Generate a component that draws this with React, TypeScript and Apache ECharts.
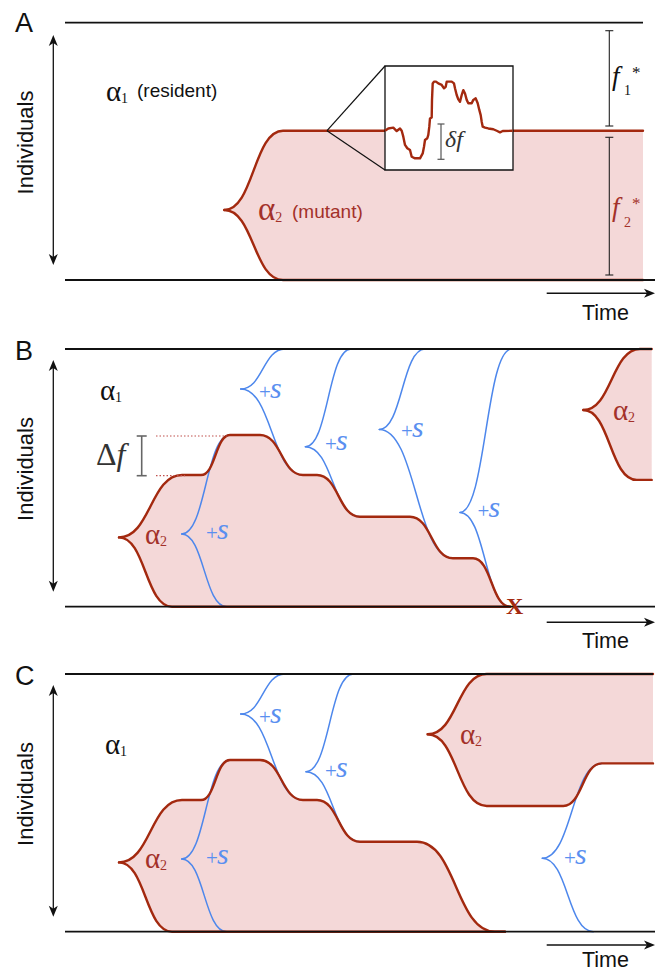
import React, { useEffect, useRef } from "react";
import * as echarts from "echarts";

// x = time (units measured from each panel's left edge), y = share of individuals (0 bottom .. 100 top)

// ---------- Panel A ----------
const A_frameTop = [[0, 100], [578, 100]];
const A_frameBottom = [[0, 0], [590, 0]];
const A_mutantUpper = [[159.3, 27.2], [218, 58], [578, 58]];
const A_mutantLower = [[159.3, 27.2], [218, 0], [578, 0]];
const A_zoomTrace = [
  [320, 58.0], [323.3, 58.9], [328.3, 59.2], [331.7, 57.9], [335, 58.9], [336.7, 58.0], [338.3, 55.7],
  [340, 52.5], [342.3, 51.2], [345, 50.5], [346.7, 47.9], [350, 47.3], [355, 47.3], [357.7, 49.2],
  [359, 51.8], [360, 54.4], [362.3, 55.1], [363.3, 56.4], [364.3, 59.6], [365, 62.8], [366.7, 63.2],
  [367, 70.0], [367.7, 76.4], [369, 77.1], [371, 77.1], [373.3, 76.4], [376.7, 75.8], [379, 74.5],
  [380.7, 75.1], [381.7, 77.1], [386.7, 77.1], [389, 76.4], [390, 74.5], [391.7, 71.9], [393.3, 70.2],
  [395, 69.3], [396.7, 71.9], [398.3, 73.8], [400, 72.5], [401.7, 70.0], [403.3, 68.7], [406.7, 68.7],
  [408.3, 70.0], [410.7, 70.6], [412.7, 68.7], [414.3, 66.1], [415.7, 64.1], [416.7, 61.5], [417.7, 59.6],
  [420, 59.2], [423.3, 58.9], [428.3, 58.6], [431.7, 58.0], [435, 57.4], [437.7, 57.9], [447.7, 58.0],
];

// ---------- Panel B ----------
const B_frameTop = [[0, 100], [587, 100]];
const B_frameBottom = [[0, 0], [590, 0]];
const B_mutant1Upper = [[54, 26.9], [117, 51.1], [136, 51.1], [165, 66.6], [195, 66.6], [238, 51.1], [252, 51.1], [295, 34.9], [345, 34.9], [388, 18.8], [408, 18.8], [445, 0]];
const B_mutant1Lower = [[54, 26.9], [107, 0], [445, 0]];
const B_mutant2Upper = [[518.3, 76.3], [575, 100], [586.7, 100]];
const B_mutant2Lower = [[518.3, 76.3], [571.7, 49.2], [586.7, 49.2]];
const B_sweepCusps = [[116.7, 28.2], [175.7, 84.5], [240.4, 62.1], [314.3, 68.8], [395, 36.6]];
const B_sweepUpperEnds = [[165, 66.6], [220, 100], [286, 100], [360, 100], [446.7, 100]];
const B_sweepLowerEnds = [[161.7, 0], [238, 51.1], [295, 34.9], [388, 18.8], [445, 0]];

// ---------- Panel C ----------
const C_frameTop = [[0, 100], [588, 100]];
const C_frameBottom = [[0, 0], [590, 0]];
const C_mutant1Upper = [[54, 26.9], [117, 51.1], [136, 51.1], [165, 66.6], [195, 66.6], [238, 51.1], [252, 51.1], [295, 34.9], [352, 34.9], [430, 0], [440, 0]];
const C_mutant1Lower = [[54, 26.9], [107, 0], [440, 0]];
const C_mutant2Upper = [[362.7, 76.6], [421.7, 100], [588, 100]];
const C_mutant2Lower = [[362.7, 76.6], [421.7, 48.8], [498.3, 48.8], [536.7, 65.3], [588, 65.3]];
const C_sweepCusps = [[116.7, 28.2], [175.7, 84.5], [241, 62.1], [477.3, 28.5]];
const C_sweepUpperEnds = [[165, 66.6], [220, 100], [288.3, 100], [536.7, 65.3]];
const C_sweepLowerEnds = [[161.7, 0], [238, 51.1], [295, 34.9], [528.3, 0]];

// ---------- styles ----------
const RED = "#a3290f";
const RED_TEXT = "#a3312a";
const PINK = "#f4d8d8";
const BLUE = "#4d87ec";
const BLUE_TEXT = "#5a8ff0";
const INK = "#111111";
const SANS = "'Liberation Sans', Arial, Helvetica, sans-serif";
const SERIF = "'Liberation Serif', 'Times New Roman', serif";
const K = 0.5;

function curveD(pts: number[][], api: any, start: boolean) {
  const p = pts.map((q) => api.coord(q));
  let d = (start ? "M" : "L") + p[0][0] + " " + p[0][1];
  for (let i = 1; i < p.length; i++) {
    const [x0, y0] = p[i - 1];
    const [x1, y1] = p[i];
    const dx = (x1 - x0) * K;
    d += ` C${x0 + dx} ${y0} ${x1 - dx} ${y1} ${x1} ${y1}`;
  }
  return d;
}

function fillSeries(g: number, shapes: { upper: number[][]; lower: number[][] }[]) {
  return {
    type: "custom", xAxisIndex: g, yAxisIndex: g, z: 1, clip: false, silent: true,
    data: shapes.map((s) => [s.upper[0][0], s.upper[0][1]]),
    renderItem: (params: any, api: any) => {
      const s = shapes[params.dataIndex];
      const d = curveD(s.upper, api, true) + " " + curveD(s.lower.slice().reverse(), api, false) + " Z";
      return { type: "path", shape: { pathData: d }, style: { fill: PINK, stroke: null } };
    },
  };
}

function strokeSeries(g: number, curves: number[][][], color: string, width: number, z: number) {
  return {
    type: "custom", xAxisIndex: g, yAxisIndex: g, z, clip: false, silent: true,
    data: curves.map((c) => [c[0][0], c[0][1]]),
    renderItem: (params: any, api: any) => ({
      type: "path",
      shape: { pathData: curveD(curves[params.dataIndex], api, true) },
      style: { fill: null, stroke: color, lineWidth: width, lineCap: "round", lineJoin: "round" },
    }),
  };
}

function frameSeries(g: number, data: number[][]) {
  return {
    type: "line", xAxisIndex: g, yAxisIndex: g, data, symbol: "none", clip: false, silent: true, z: 8,
    lineStyle: { color: INK, width: 1.8, cap: "butt" },
  };
}

function sweeps(cusps: number[][], ups: number[][], lows: number[][]) {
  const out: number[][][] = [];
  cusps.forEach((c, i) => { out.push([c, ups[i]]); out.push([c, lows[i]]); });
  return out;
}

// ---------- annotation helpers (pixel space) ----------
function T(x: number, base: number, text: string, size: number, family: string, color: string, o: any = {}) {
  const font = `${o.italic ? "italic " : ""}${o.weight || "normal"} ${size}px ${family}`;
  return {
    type: "text", x, y: base - 0.34 * size, z: 30, silent: true,
    style: { text, fill: color, font, align: o.align || "left", verticalAlign: "middle", textAlign: o.align || "left", textVerticalAlign: "middle" },
  };
}
function L(x1: number, y1: number, x2: number, y2: number, color: string, w: number, extra: any = {}) {
  return { type: "line", z: 11, silent: true, shape: { x1, y1, x2, y2 }, style: { stroke: color, lineWidth: w, ...extra } };
}
function vArrow(x: number, y1: number, y2: number) {
  return [
    L(x, y1 + 6, x, y2 - 6, INK, 1.3),
    { type: "polygon", z: 11, silent: true, shape: { points: [[x, y1], [x - 4.5, y1 + 11], [x, y1 + 8], [x + 4.5, y1 + 11]] }, style: { fill: INK } },
    { type: "polygon", z: 11, silent: true, shape: { points: [[x, y2], [x - 4.5, y2 - 11], [x, y2 - 8], [x + 4.5, y2 - 11]] }, style: { fill: INK } },
  ];
}
function hArrow(x1: number, x2: number, y: number) {
  return [
    L(x1, y, x2 - 6, y, INK, 1.5),
    { type: "polygon", z: 11, silent: true, shape: { points: [[x2, y], [x2 - 11, y - 4.5], [x2 - 8, y], [x2 - 11, y + 4.5]] }, style: { fill: INK } },
  ];
}
function ibar(x: number, y1: number, y2: number, half: number, color: string, w: number) {
  return [L(x, y1, x, y2, color, w), L(x - half, y1, x + half, y1, color, w), L(x - half, y2, x + half, y2, color, w)];
}
function alpha(x: number, base: number, sub: string, color: string, size = 30) {
  return [T(x, base, "α", size, SERIF, color), T(x + size * 0.52, base + 2.5, sub, 14, SERIF, color)];
}
function plusS(x: number, base: number) {
  return [T(x, base + 1.5, "+", 21, SERIF, BLUE_TEXT), T(x + 11, base, "s", 30, SERIF, BLUE_TEXT, { italic: true })];
}
function individuals(cy: number) {
  return {
    type: "text", x: 25, y: cy, rotation: Math.PI / 2, z: 30, silent: true,
    style: { text: "Individuals", fill: INK, font: `normal 22px ${SANS}`, align: "center", verticalAlign: "middle", textAlign: "center", textVerticalAlign: "middle" },
  };
}

const graphics: any[] = [
  // Panel A
  T(15, 32, "A", 27, SANS, INK),
  individuals(142.5),
  ...vArrow(53.3, 35, 265),
  ...hArrow(546.7, 655, 293.3),
  T(582, 320, "Time", 21.5, SANS, INK),
  ...alpha(106, 100.5, "1", INK, 29),
  T(137, 97, "(resident)", 19, SANS, INK),
  ...alpha(258, 220, "2", RED_TEXT, 33),
  T(292, 217.5, "(mutant)", 19, SANS, RED_TEXT),
  { type: "rect", z: 10, silent: true, shape: { x: 385, y: 66, width: 128, height: 104 }, style: { fill: "#ffffff", stroke: INK, lineWidth: 1.3 } },
  L(327, 130.7, 385, 66, INK, 1.2),
  L(327, 130.7, 385, 170, INK, 1.2),
  ...ibar(441, 124, 159.3, 3.5, "#555555", 1.2),
  T(445, 147, "δf", 24, SERIF, "#333333", { italic: true }),
  ...ibar(609.3, 30.7, 126, 4, "#222222", 1.1),
  ...ibar(609.3, 137.3, 275, 4, "#222222", 1.1),
  T(612, 84.7, "f", 27, SERIF, INK, { italic: true }),
  T(624, 95, "1", 14, SERIF, INK),
  T(632, 78, "*", 17, SERIF, INK),
  T(612, 216.4, "f", 27, SERIF, RED_TEXT, { italic: true }),
  T(624, 227, "2", 14, SERIF, RED_TEXT),
  T(632, 209.5, "*", 17, SERIF, RED_TEXT),

  // Panel B
  T(15, 360, "B", 27, SANS, INK),
  individuals(469),
  ...vArrow(53.3, 360, 591.7),
  ...hArrow(546.7, 655, 622.3),
  T(582, 648, "Time", 21.5, SANS, INK),
  ...alpha(100, 399.5, "1", INK, 29),
  ...alpha(145, 543.5, "2", RED_TEXT, 29),
  ...alpha(613, 419.5, "2", RED_TEXT, 29),
  {
    type: "text", x: 96, y: 465 - 0.34 * 32, z: 30, silent: true,
    style: {
      text: "{a|Δ}{b|f}", verticalAlign: "middle", textVerticalAlign: "middle", align: "left", textAlign: "left",
      rich: {
        a: { font: `normal 32px ${SERIF}`, fill: "#333333" },
        b: { font: `italic normal 32px ${SERIF}`, fill: "#333333" },
      },
    },
  },
  ...ibar(141.7, 436, 475.7, 5, "#666666", 1.6),
  L(156, 436, 226.7, 436, "#c0504d", 1.2, { lineDash: [1.5, 2] }),
  L(156, 475.7, 185, 475.7, "#c0504d", 1.2, { lineDash: [1.5, 2] }),
  ...plusS(206, 539),
  ...plusS(259, 398),
  ...plusS(325, 449.5),
  ...plusS(401, 436.5),
  ...plusS(477.5, 516.5),
  T(506, 614, "X", 24, SERIF, RED, { weight: "bold" }),

  // Panel C
  T(15, 685, "C", 27, SANS, INK),
  individuals(794),
  ...vArrow(53.3, 685, 916.7),
  ...hArrow(546.7, 655, 945),
  T(582, 967, "Time", 21.5, SANS, INK),
  ...alpha(105, 753.5, "1", INK, 29),
  ...alpha(145, 868, "2", RED_TEXT, 29),
  ...alpha(460, 744, "2", RED_TEXT, 29),
  ...plusS(206, 864),
  ...plusS(259, 723),
  ...plusS(325, 776.5),
  ...plusS(564, 864),
];

const grids = [
  { left: 65, top: 22.7, width: 590, height: 257.3 },
  { left: 65, top: 349, width: 590, height: 257.7 },
  { left: 65, top: 674, width: 590, height: 257.7 },
];

const option: any = {
  animation: false,
  backgroundColor: "#ffffff",
  grid: grids,
  xAxis: grids.map((_, i) => ({ type: "value", gridIndex: i, min: 0, max: 590, show: false })),
  yAxis: grids.map((_, i) => ({ type: "value", gridIndex: i, min: 0, max: 100, show: false })),
  series: [
    // Panel A
    fillSeries(0, [{ upper: A_mutantUpper, lower: A_mutantLower }]),
    strokeSeries(0, [A_mutantUpper, A_mutantLower], RED, 2.4, 5),
    frameSeries(0, A_frameTop),
    frameSeries(0, A_frameBottom),
    {
      type: "line", xAxisIndex: 0, yAxisIndex: 0, data: A_zoomTrace, symbol: "none", clip: false, silent: true, z: 12,
      lineStyle: { color: RED, width: 2.4, join: "round" },
    },
    // Panel B
    fillSeries(1, [{ upper: B_mutant1Upper, lower: B_mutant1Lower }, { upper: B_mutant2Upper, lower: B_mutant2Lower }]),
    strokeSeries(1, sweeps(B_sweepCusps, B_sweepUpperEnds, B_sweepLowerEnds), BLUE, 1.5, 3),
    strokeSeries(1, [B_mutant1Upper, B_mutant1Lower, B_mutant2Upper, B_mutant2Lower], RED, 2.4, 5),
    frameSeries(1, B_frameTop),
    frameSeries(1, B_frameBottom),
    // Panel C
    fillSeries(2, [{ upper: C_mutant1Upper, lower: C_mutant1Lower }, { upper: C_mutant2Upper, lower: C_mutant2Lower }]),
    strokeSeries(2, sweeps(C_sweepCusps, C_sweepUpperEnds, C_sweepLowerEnds), BLUE, 1.5, 3),
    strokeSeries(2, [C_mutant1Upper, C_mutant1Lower, C_mutant2Upper, C_mutant2Lower], RED, 2.4, 5),
    frameSeries(2, C_frameTop),
    frameSeries(2, C_frameBottom),
  ],
  graphic: graphics,
};

export default function App() {
  const ref = useRef<HTMLDivElement>(null);
  useEffect(() => {
    const chart = echarts.init(ref.current!, null, { renderer: "svg" });
    chart.setOption(option);
    return () => chart.dispose();
  }, []);
  return <div ref={ref} style={{ position: "fixed", left: 0, top: 0, width: 663, height: 972, background: "#fff" }} />;
}
